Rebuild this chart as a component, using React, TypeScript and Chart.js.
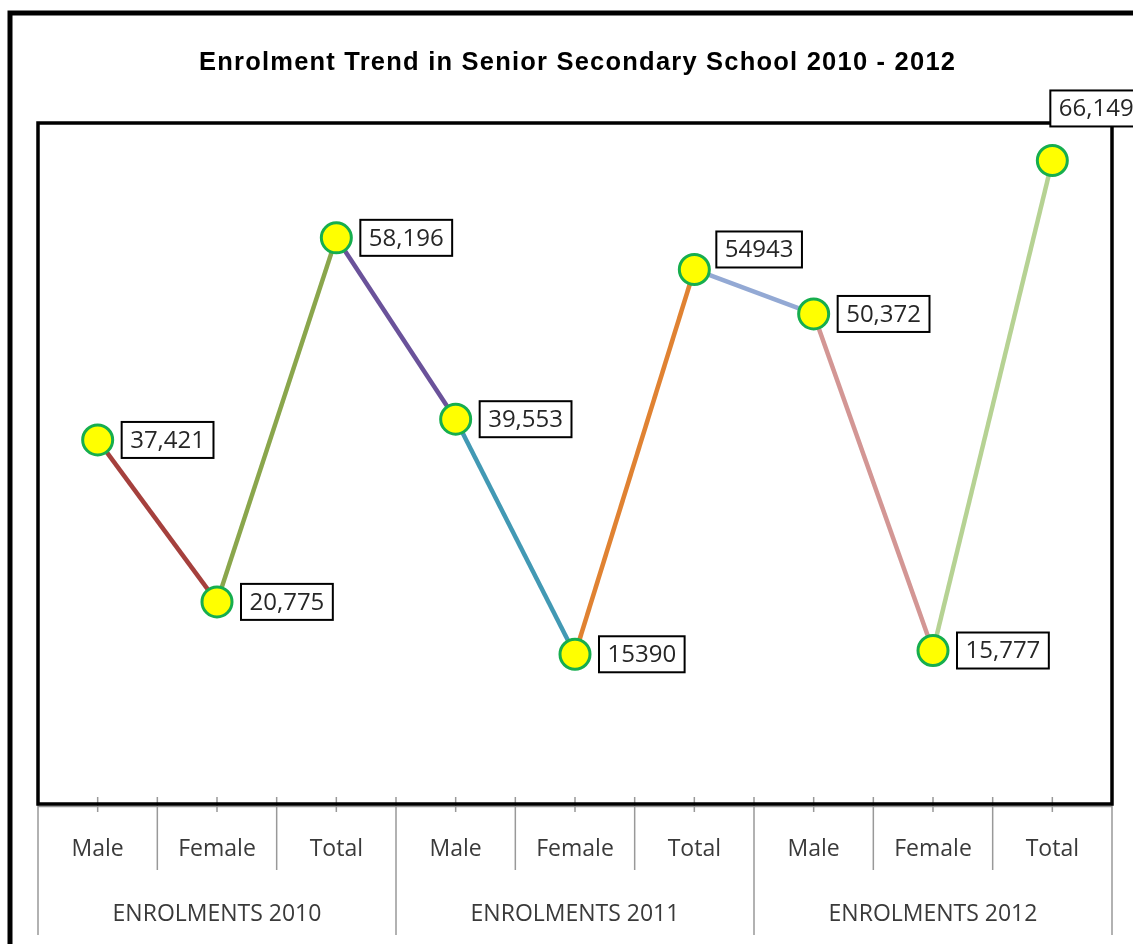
import React, { useEffect, useRef } from "react";
import { Chart, registerables } from "chart.js";

Chart.register(...registerables);

const TITLE = "Enrolment Trend in Senior Secondary School 2010 - 2012";
const categories = ["Male", "Female", "Total", "Male", "Female", "Total", "Male", "Female", "Total"];
const groups = ["ENROLMENTS 2010", "ENROLMENTS 2011", "ENROLMENTS 2012"];
const values = [37421, 20775, 58196, 39553, 15390, 54943, 50372, 15777, 66149];
const valueLabels = ["37,421", "20,775", "58,196", "39,553", "15390", "54943", "50,372", "15,777", "66,149"];
const segmentColors = ["#A5403D", "#8AA64C", "#6A529A", "#4299B4", "#E08232", "#93A9D4", "#D39694", "#B6D293"];

const LABEL_FONT = "24px 'Open Sans'";
const AXIS_FONT = "23px 'Open Sans'";

const decorPlugin = {
  id: "decor",
  beforeDatasetsDraw(chart: any) {
    const { ctx, chartArea: a } = chart;
    ctx.save();
    // outer frame
    ctx.strokeStyle = "#000";
    ctx.lineWidth = 5;
    ctx.strokeRect(10, 13, 1140, 960);
    // title
    ctx.fillStyle = "#000";
    ctx.font = "bold 25.5px 'Liberation Sans'";
    ctx.textBaseline = "alphabetic";
    ctx.textAlign = "left";
    const target = 756;
    const w0 = ctx.measureText(TITLE).width;
    const ls = (target - w0) / (TITLE.length - 1);
    (ctx as any).letterSpacing = ls + "px";
    ctx.fillText(TITLE, 577 - target / 2, 70);
    (ctx as any).letterSpacing = "0px";

    // axis lines & ticks
    const xs = chart.scales.x;
    const n = categories.length;
    const half = (xs.getPixelForValue(1) - xs.getPixelForValue(0)) / 2;
    ctx.strokeStyle = "#999";
    ctx.lineWidth = 1.5;
    ctx.beginPath();
    ctx.moveTo(a.left, a.bottom + 2.5);
    ctx.lineTo(a.right, a.bottom + 2.5);
    ctx.stroke();
    for (let i = 0; i < n; i++) {
      const cx = xs.getPixelForValue(i);
      ctx.beginPath();
      ctx.moveTo(cx, a.bottom - 7);
      ctx.lineTo(cx, a.bottom + 8);
      ctx.stroke();
    }
    for (let i = 0; i <= n; i++) {
      const bx = i < n ? xs.getPixelForValue(i) - half : xs.getPixelForValue(n - 1) + half;
      const isGroup = i % 3 === 0;
      ctx.beginPath();
      ctx.moveTo(bx, a.bottom - 7);
      ctx.lineTo(bx, isGroup ? a.bottom + 131 : a.bottom + 66);
      ctx.stroke();
    }
    ctx.fillStyle = "#3a3a3a";
    ctx.font = AXIS_FONT;
    ctx.textAlign = "center";
    ctx.textBaseline = "alphabetic";
    for (let i = 0; i < n; i++) {
      ctx.fillText(categories[i], xs.getPixelForValue(i), a.bottom + 52);
    }
    for (let g = 0; g < groups.length; g++) {
      const cx = xs.getPixelForValue(g * 3 + 1);
      ctx.fillText(groups[g], cx, a.bottom + 117);
    }

    // plot frame
    ctx.strokeStyle = "#000";
    ctx.lineWidth = 3.5;
    ctx.strokeRect(a.left, a.top, a.right - a.left, a.bottom - a.top);
    ctx.restore();
  },
  afterDatasetsDraw(chart: any) {
    const { ctx } = chart;
    const meta = chart.getDatasetMeta(0);
    ctx.save();
    ctx.font = LABEL_FONT;
    ctx.textBaseline = "middle";
    ctx.textAlign = "left";
    meta.data.forEach((pt: any, i: number) => {
      const text = valueLabels[i];
      const tw = ctx.measureText(text).width;
      const bw = tw + 17;
      const bh = 36;
      let left = pt.x + 24;
      let cy = pt.y;
      if (i === 5) { left = pt.x + 22; cy = pt.y - 20; }
      if (i === 8) { left = pt.x - 2; cy = pt.y - 52; }
      ctx.fillStyle = "#fff";
      ctx.fillRect(left, cy - bh / 2, bw, bh);
      ctx.strokeStyle = "#000";
      ctx.lineWidth = 2;
      ctx.strokeRect(left, cy - bh / 2, bw, bh);
      ctx.fillStyle = "#262626";
      ctx.fillText(text, left + 8.5, cy + 1);
    });
    ctx.restore();
  },
};

export default function App() {
  const ref = useRef<HTMLCanvasElement | null>(null);
  useEffect(() => {
    if (!ref.current) return;
    const chart = new Chart(ref.current, {
      type: "line",
      data: {
        labels: categories,
        datasets: [
          {
            data: values,
            borderWidth: 4.5,
            borderColor: segmentColors[0],
            segment: { borderColor: (c: any) => segmentColors[c.p0DataIndex] },
            pointRadius: 15,
            pointBorderWidth: 3,
            pointBackgroundColor: "#FFFF00",
            pointBorderColor: "#16AE4E",
            tension: 0,
            clip: false as any,
          },
        ],
      },
      options: {
        responsive: false,
        animation: false,
        layout: { padding: { left: 38, right: 21, top: 123, bottom: 140 } },
        plugins: { legend: { display: false }, tooltip: { enabled: false }, title: { display: false } },
        scales: {
          x: { type: "category", offset: true, display: false },
          y: { min: 0, max: 70000, display: false },
        },
      },
      plugins: [decorPlugin],
    });
    return () => chart.destroy();
  }, []);
  return (
    <div style={{ position: "fixed", left: 0, top: 0, width: 1133, height: 944, background: "#fff" }}>
      <canvas ref={ref} width={1133} height={944} style={{ width: 1133, height: 944, display: "block" }} />
    </div>
  );
}
